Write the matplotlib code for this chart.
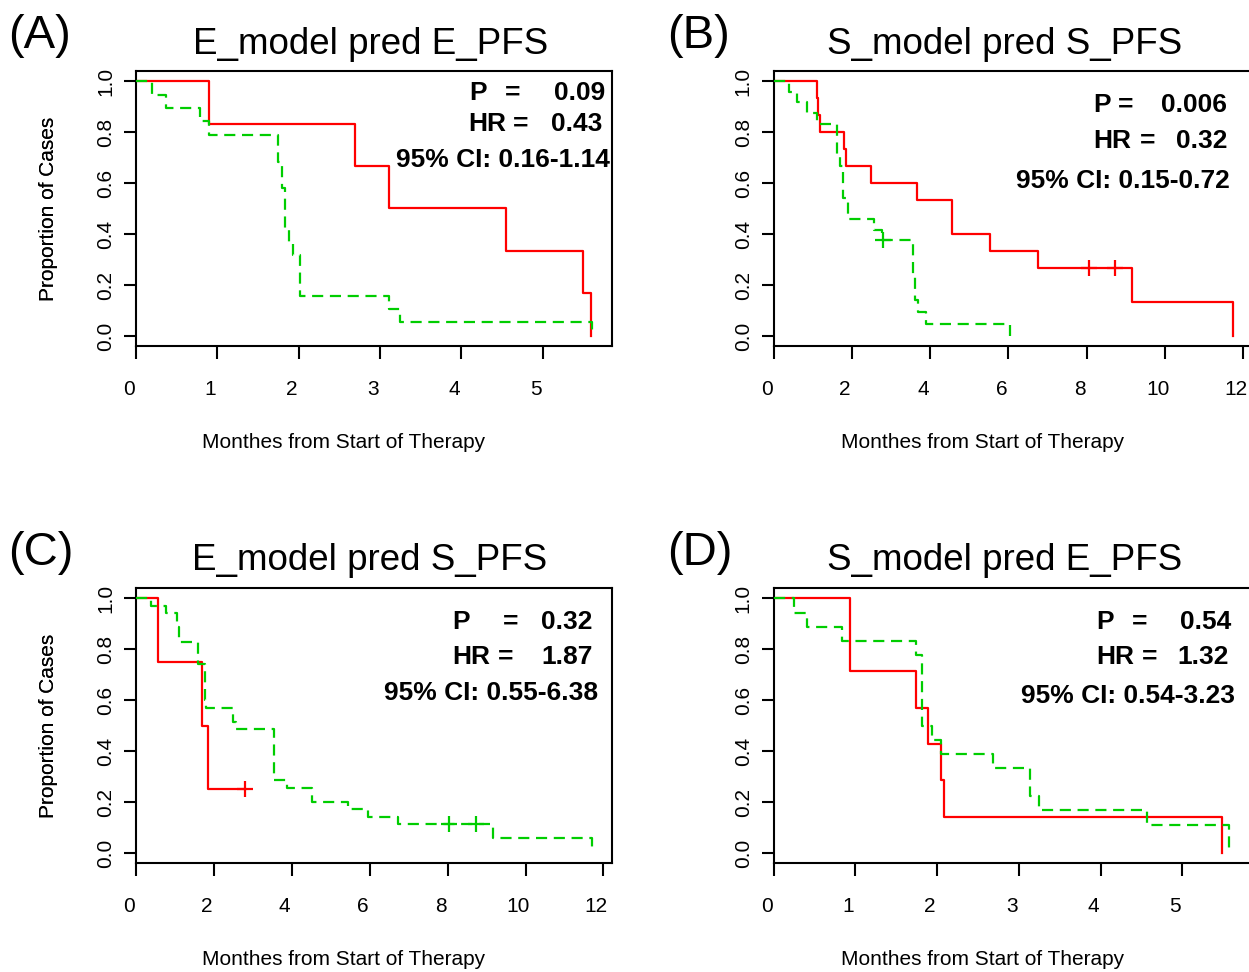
import matplotlib
matplotlib.use("Agg")
import matplotlib.pyplot as plt
from matplotlib.transforms import ScaledTranslation

plt.rcParams["font.family"] = ["Liberation Sans", "DejaVu Sans"]

# ---------------- data ----------------
titles = ["E_model pred E_PFS", "S_model pred S_PFS", "E_model pred S_PFS", "S_model pred E_PFS"]
letters = ["(A)", "(B)", "(C)", "(D)"]
xlabel = "Monthes from Start of Therapy"
ylabel = "Proportion of Cases"
p_values = ["0.09", "0.006", "0.32", "0.54"]
hr_values = ["0.43", "0.32", "1.87", "1.32"]
ci_texts = ["95% CI: 0.16-1.14", "95% CI: 0.15-0.72", "95% CI: 0.55-6.38", "95% CI: 0.54-3.23"]
xticks_A = [0, 1, 2, 3, 4, 5]
xticks_B = [0, 2, 4, 6, 8, 10, 12]
yticks = [0.0, 0.2, 0.4, 0.6, 0.8, 1.0]
ytick_labels = ["0.0", "0.2", "0.4", "0.6", "0.8", "1.0"]

# Panel A
A_red_t = [0.90, 2.69, 3.11, 4.55, 5.49, 5.59]
A_red_s = [0.833, 0.667, 0.500, 0.333, 0.167, 0.0]
A_green_t = [0.20, 0.37, 0.79, 0.90, 1.74, 1.79, 1.83, 1.88, 1.93, 2.01, 3.11, 3.25, 5.60]
A_green_s = [0.947, 0.895, 0.842, 0.789, 0.684, 0.579, 0.421, 0.368, 0.316, 0.158, 0.105, 0.053, 0.0]

# Panel B
B_red_t = [1.10, 1.145, 1.18, 1.80, 1.85, 2.49, 3.67, 4.57, 5.53, 6.75, 9.17, 11.73]
B_red_s = [0.933, 0.867, 0.800, 0.733, 0.667, 0.600, 0.533, 0.400, 0.333, 0.267, 0.133, 0.0]
B_red_cens_t = [8.06, 8.72]
B_red_cens_s = 0.267
B_green_t = [0.40, 0.61, 0.85, 1.12, 1.61, 1.70, 1.78, 1.90, 2.57, 2.76, 3.56, 3.61, 3.70, 3.90, 6.04]
B_green_s = [0.958, 0.917, 0.875, 0.833, 0.708, 0.667, 0.542, 0.458, 0.417, 0.375, 0.234, 0.141, 0.094, 0.047, 0.0]
B_green_cens_t = [2.80]
B_green_cens_s = 0.375

# Panel C
C_red_t = [0.57, 1.70, 1.84]
C_red_s = [0.75, 0.50, 0.25]
C_red_cens_t = [2.80]
C_red_cens_s = 0.25
C_green_t = [0.385, 0.77, 1.04, 1.10, 1.58, 1.77, 1.80, 2.48, 2.57, 3.54, 3.87, 4.51, 5.45, 5.96, 6.73, 9.16, 11.70]
C_green_s = [0.971, 0.943, 0.886, 0.829, 0.743, 0.600, 0.571, 0.514, 0.486, 0.286, 0.257, 0.200, 0.171, 0.143, 0.114, 0.057, 0.0]
C_green_cens_t = [8.04, 8.73]
C_green_cens_s = 0.114

# Panel D
D_red_t = [0.93, 1.74, 1.895, 2.05, 2.08, 5.48]
D_red_s = [0.714, 0.571, 0.429, 0.286, 0.143, 0.0]
D_green_t = [0.245, 0.41, 0.84, 1.74, 1.82, 1.94, 2.05, 2.69, 3.14, 3.25, 4.57, 5.57]
D_green_s = [0.944, 0.889, 0.833, 0.778, 0.500, 0.444, 0.389, 0.333, 0.222, 0.167, 0.111, 0.0]

# ---------------- styling / layout ----------------
W, H = 1249, 972
RED = "#FF0000"
GREEN = "#00CD00"
fig = plt.figure(figsize=(W / 100, H / 100), dpi=100)


def pf(x, y):
    return x / W, 1 - y / H


def km(ax, t, s, color, ls, cens_t=None, cens_s=None, zorder=2):
    xs = [0.0] + list(t)
    ys = [1.0] + list(s)
    if cens_t and max(cens_t) > xs[-1]:
        xs.append(max(cens_t))
        ys.append(ys[-1])
    ax.step(xs, ys, where="post", color=color, lw=1.6, ls=ls, zorder=zorder)
    if cens_t:
        ax.plot(cens_t, [cens_s] * len(cens_t), "+", color=color, ms=11, mew=1.6,
                zorder=zorder)


def panel(rect, xmax, xticks, idx, red, green, stats_px, title_x, title_base, letter_px):
    left, top, right, bottom = rect
    ax = fig.add_axes([left / W, 1 - bottom / H, (right - left) / W, (bottom - top) / H])
    km(ax, *red[:2], RED, "-", *red[2:], zorder=2)
    km(ax, *green[:2], GREEN, (0, (5, 3)), *green[2:], zorder=3)
    ax.set_xlim(0, xmax)
    ax.set_ylim(-0.04, 1.04)
    ax.set_xticks(xticks)
    ax.set_xticklabels([str(v) for v in xticks])
    ax.set_yticks(yticks)
    ax.set_yticklabels(ytick_labels)
    for sp in ax.spines.values():
        sp.set_linewidth(1.5)
    ax.tick_params(direction="out", length=9, width=1.5, labelsize=15)
    ax.tick_params(axis="x", pad=15.5)
    ax.tick_params(axis="y", pad=6, labelrotation=90)
    for lbl in ax.get_yticklabels():
        lbl.set_va("center")
    off = ScaledTranslation(-7 / 100, 0, fig.dpi_scale_trans)
    for lbl in ax.get_xticklabels():
        lbl.set_transform(lbl.get_transform() + off)
    ax.set_xlabel(xlabel, fontsize=15)
    ax.xaxis.set_label_coords(0.437, -0.314)
    ax.set_ylabel(ylabel, fontsize=15)
    ax.yaxis.set_label_coords((58.5 - left) / (right - left), 0.5)
    # title & letter
    fig.text(*pf(title_x, title_base), titles[idx], fontsize=26.5, ha="center", va="baseline")
    fig.text(*pf(*letter_px), letters[idx], fontsize=34, ha="left", va="baseline")
    # statistics
    (pL, pE, pR, pY), (hL, hE, hR, hY), (cR, cY) = stats_px
    kw = dict(fontsize=19, fontweight="bold", va="baseline")
    fig.text(*pf(pL, pY), "P", ha="left", **kw)
    fig.text(*pf(pE, pY), "=", ha="left", **kw)
    fig.text(*pf(pR, pY), p_values[idx], ha="right", **kw)
    fig.text(*pf(hL, hY), "HR", ha="left", **kw)
    fig.text(*pf(hE, hY), "=", ha="left", **kw)
    fig.text(*pf(hR, hY), hr_values[idx], ha="right", **kw)
    fig.text(*pf(cR, cY), ci_texts[idx], ha="right", **kw)
    return ax


top_rect = (70.8, 346.2)
bot_rect = (588.1, 863.2)

panel((136, top_rect[0], 612, top_rect[1]), 5.85, xticks_A, 0,
      (A_red_t, A_red_s), (A_green_t, A_green_s),
      ((469, 505, 605, 100), (468, 513, 602, 131), (610, 167)),
      371, 54, (8, 48))

panel((773.5, top_rect[0], 1251, top_rect[1]), 12.2, xticks_B, 1,
      (B_red_t, B_red_s, B_red_cens_t, B_red_cens_s),
      (B_green_t, B_green_s, B_green_cens_t, B_green_cens_s),
      ((1093, 1118, 1227, 112), (1093, 1140, 1227, 148), (1230, 188)),
      1005, 54, (667, 48))

panel((136, bot_rect[0], 612, bot_rect[1]), 12.22, xticks_B, 2,
      (C_red_t, C_red_s, C_red_cens_t, C_red_cens_s),
      (C_green_t, C_green_s, C_green_cens_t, C_green_cens_s),
      ((452, 503, 592, 629), (452, 498, 593, 663.5), (598, 700)),
      370, 570, (8, 565))

panel((773.5, bot_rect[0], 1251, bot_rect[1]), 5.84, xticks_A, 3,
      (D_red_t, D_red_s), (D_green_t, D_green_s),
      ((1096, 1132, 1231, 629), (1096, 1142, 1229, 663.5), (1235, 703)),
      1005, 570, (667, 565))

fig.savefig("out.png", dpi=100)
